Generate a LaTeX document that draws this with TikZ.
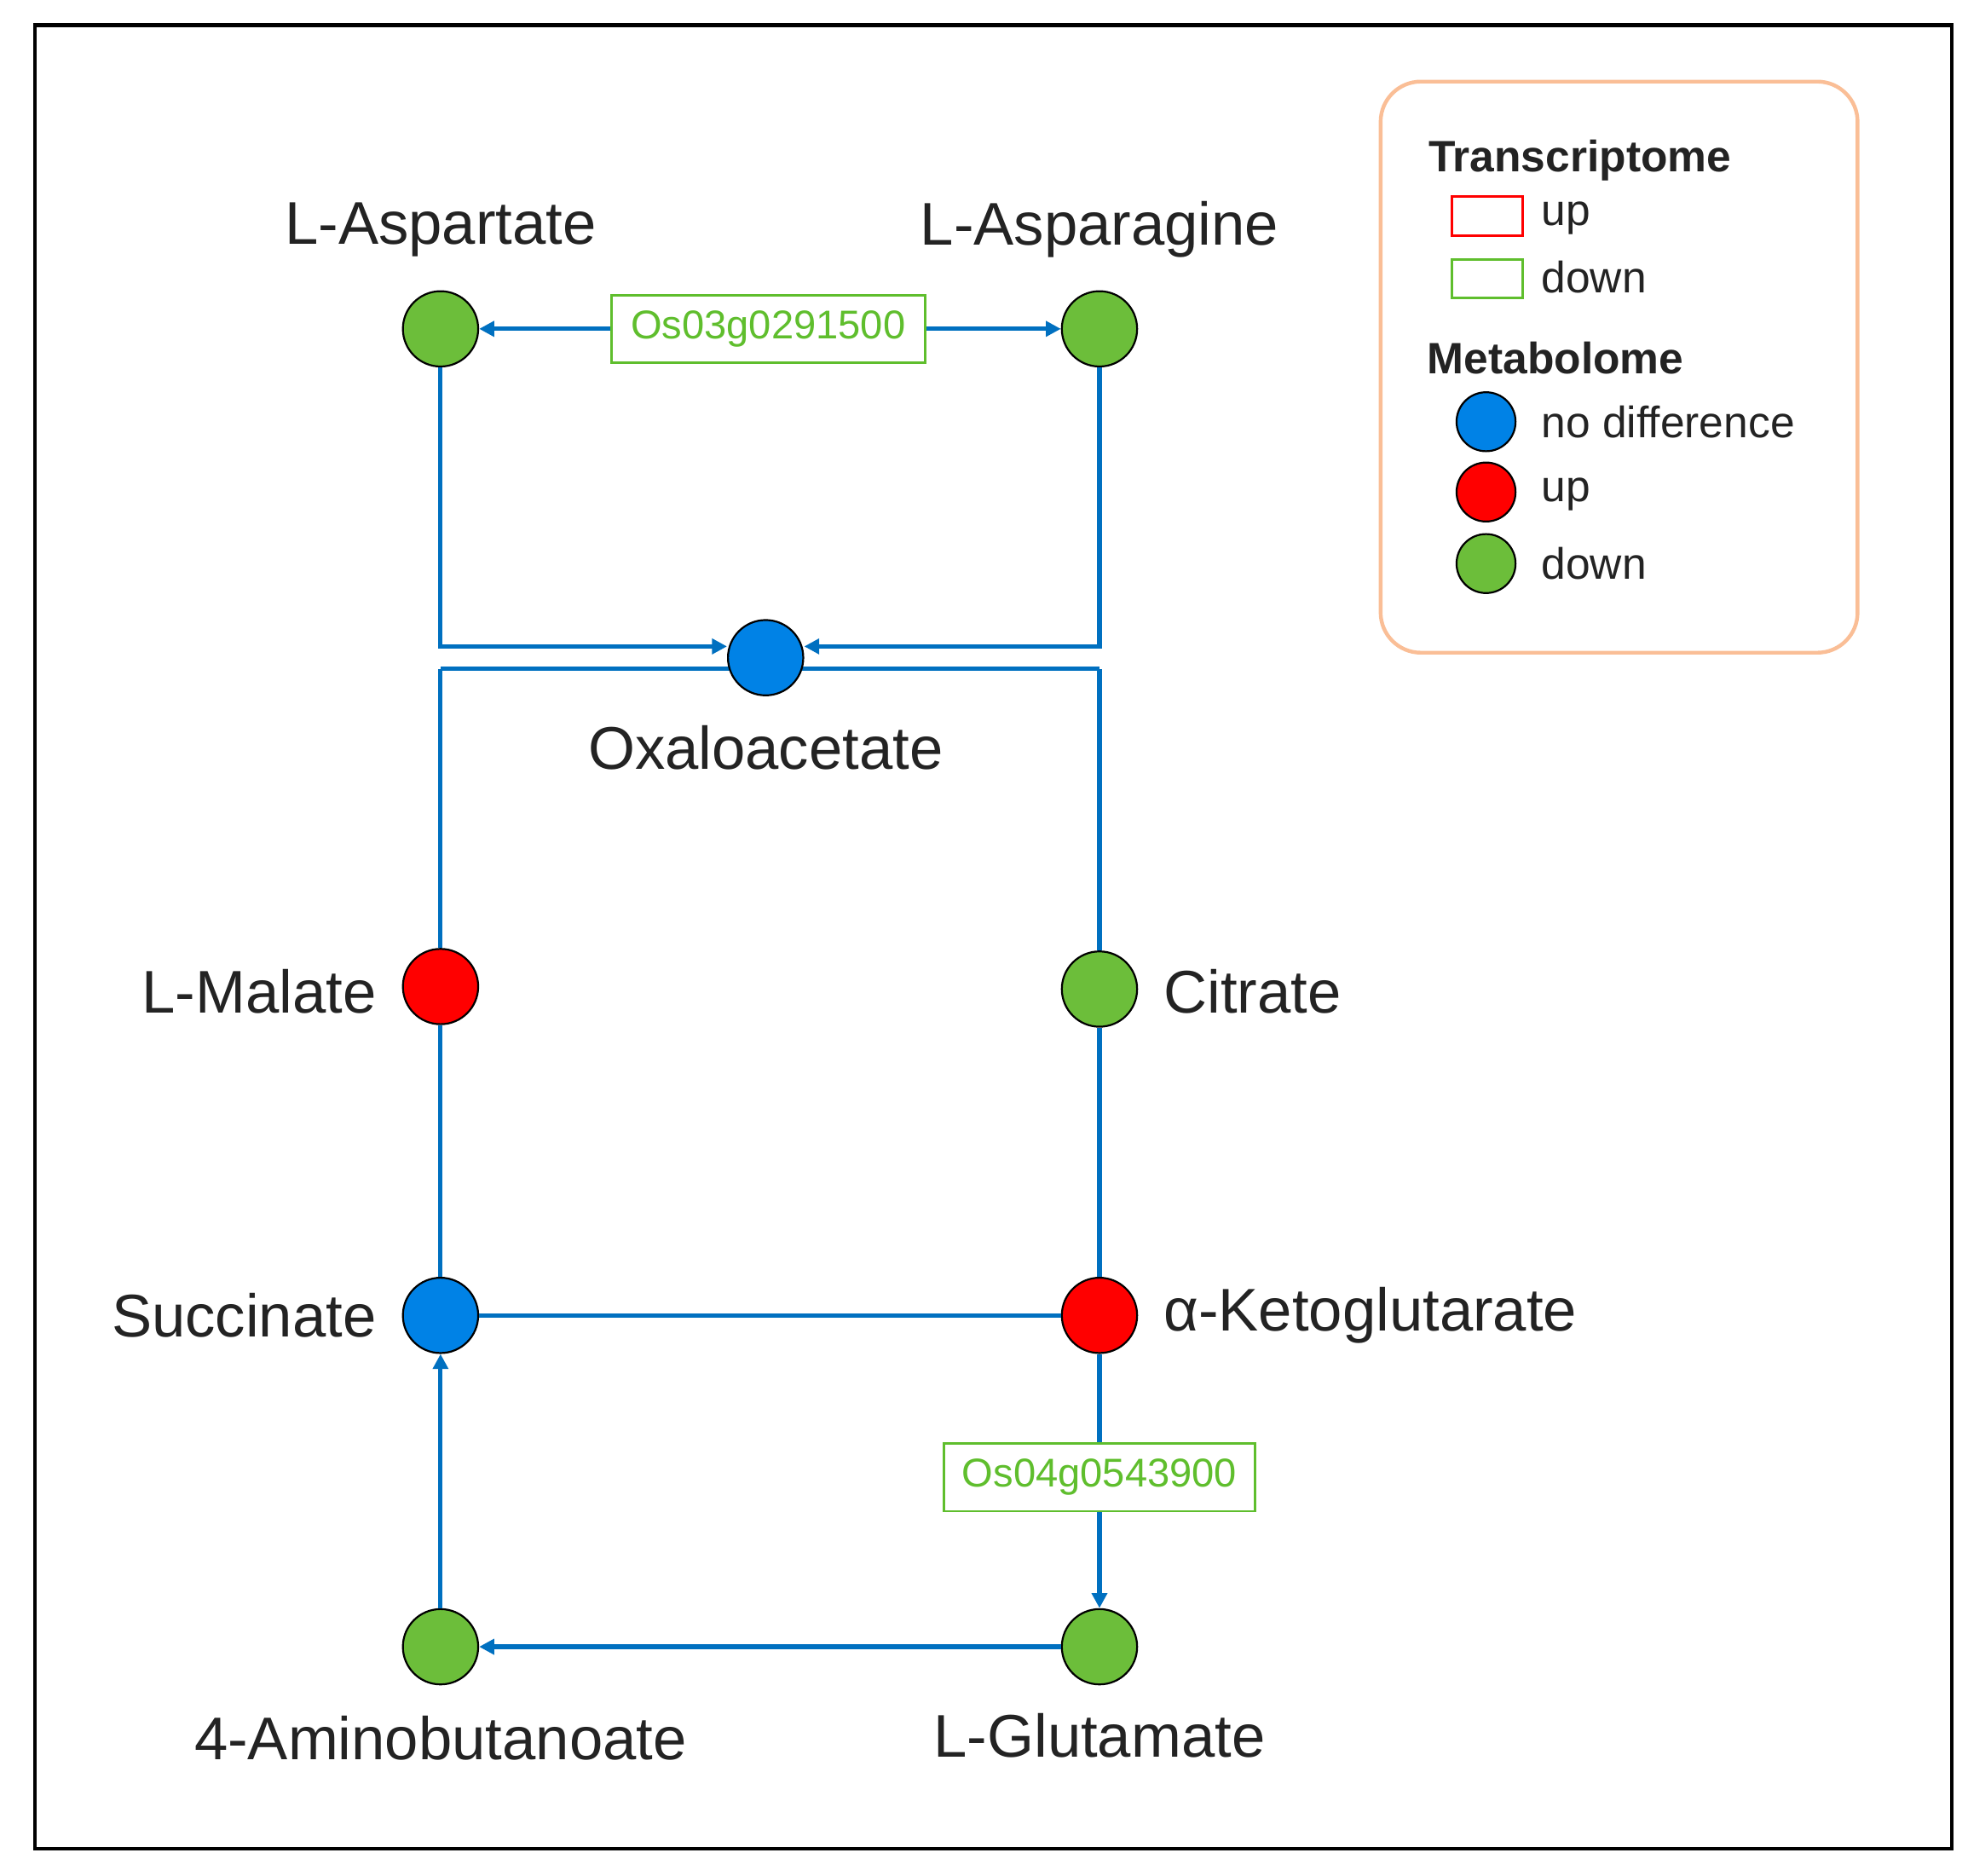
\documentclass[tikz,border=0pt]{standalone}
\usepackage{fontspec}
\setmainfont{Liberation Sans}
\usetikzlibrary{arrows.meta}
\definecolor{ln}{RGB}{0,112,192}
\definecolor{nb}{RGB}{0,130,230}
\definecolor{nr}{RGB}{255,0,0}
\definecolor{ng}{RGB}{108,190,58}
\definecolor{gg}{RGB}{95,190,45}
\definecolor{lg}{RGB}{250,190,150}
\definecolor{tx}{RGB}{35,35,35}
\begin{document}
\begin{tikzpicture}[x=1pt,y=-1pt,
  met/.style={circle,draw=black,line width=1.5pt,minimum size=60pt,inner sep=0pt},
  lbl/.style={font=\fontsize{48}{52}\selectfont,text=tx,inner sep=0pt},
  gene/.style={draw=gg,line width=2pt,fill=white,text=gg,font=\fontsize{32}{35}\selectfont,minimum width=250pt,minimum height=54pt,inner sep=0pt},
  con/.style={draw=ln,line width=3.5pt},
  arr/.style={con,-{Triangle[length=12pt,width=12pt]}},
  leg/.style={font=\fontsize{35}{38}\selectfont,text=tx,anchor=west,inner sep=0pt}]
\useasboundingbox (0,0) rectangle (1568,1494);
\fill[white] (0,0) rectangle (1568,1494);
\draw[line width=3pt] (28,20) rectangle (1555,1473);
% nodes
\node[met,fill=ng] (asp) at (351,262) {};
\node[met,fill=ng] (asn) at (876,262) {};
\coordinate (j1) at (351,515); \coordinate (j2) at (876,515);
\coordinate (k1) at (351,533); \coordinate (k2) at (876,533);
\draw[con] (k1) -- (k2);
\node[met,fill=nb] (oxa) at (610,524) {};
\node[met,fill=nr] (mal) at (351,786) {};
\node[met,fill=ng] (cit) at (876,788) {};
\node[met,fill=nb] (suc) at (351,1048) {};
\node[met,fill=nr] (akg) at (876,1048) {};
\node[met,fill=ng] (gab) at (351,1312) {};
\node[met,fill=ng] (glu) at (876,1312) {};
\node[gene] (g1) at (612,262) {Os03g0291500};
\node[gene,minimum width=248pt] (g2) at (876,1177) {Os04g0543900};
% labels
\node[lbl] (tasp) at (351,183) {L-Aspartate};
\node[lbl] (tasn) at (876,183) {L-Asparagine};
\node[lbl] (toxa) at (610,596) {Oxaloacetate};
\node[lbl,anchor=east] (tmal) at (300,790) {L-Malate};
\node[lbl,anchor=west] (tcit) at (927,790) {Citrate};
\node[lbl,anchor=east] (tsuc) at (300,1048) {Succinate};
\node[lbl,anchor=west] (takg) at (927,1048) {α-Ketoglutarate};
\node[lbl] (tgab) at (351,1385) {4-Aminobutanoate};
\node[lbl] (tglu) at (876,1383) {L-Glutamate};
% connectors
\draw[arr] (asp.south) |- (oxa.west|-j1);
\draw[arr] (asn.south) |- (oxa.east|-j2);
\draw[con] (mal.north) -- (k1);
\draw[con] (cit.north) -- (k2);
\draw[arr] (g1) -- (asp);
\draw[arr] (g1) -- (asn);
\draw[con] (mal) -- (suc);
\draw[con] (cit) -- (akg);
\draw[con] (suc) -- (akg);
\draw[con] (akg) -- (g2);
\draw[arr] (g2) -- (glu);
\draw[arr] (glu) -- (gab);
\draw[arr] (gab) -- (suc);
% legend
\draw[lg,line width=3pt,rounded corners=32pt] (1100,65) rectangle (1480,520);
\node[leg,font=\fontsize{35}{38}\selectfont\bfseries] (lt) at (1138,128) {Transcriptome};
\node[draw=nr,line width=2pt,minimum width=56pt,minimum height=31pt,inner sep=0pt] (lr1) at (1185,172) {};
\node[draw=gg,line width=2pt,minimum width=56pt,minimum height=31pt,inner sep=0pt] (lr2) at (1185,222) {};
\node[leg] (lu1) at (1228,174) {up};
\node[leg] (ld1) at (1228,221) {down};
\node[leg,font=\fontsize{35}{38}\selectfont\bfseries] (lm) at (1137,285) {Metabolome};
\node[met,fill=nb,minimum size=47pt] (lc1) at (1184,336) {};
\node[met,fill=nr,minimum size=47pt] (lc2) at (1184,392) {};
\node[met,fill=ng,minimum size=47pt] (lc3) at (1184,449) {};
\node[leg] (ln1) at (1228,336) {no difference};
\node[leg] (lu2) at (1228,394) {up};
\node[leg] (ld2) at (1228,449) {down};
\end{tikzpicture}
\end{document}
